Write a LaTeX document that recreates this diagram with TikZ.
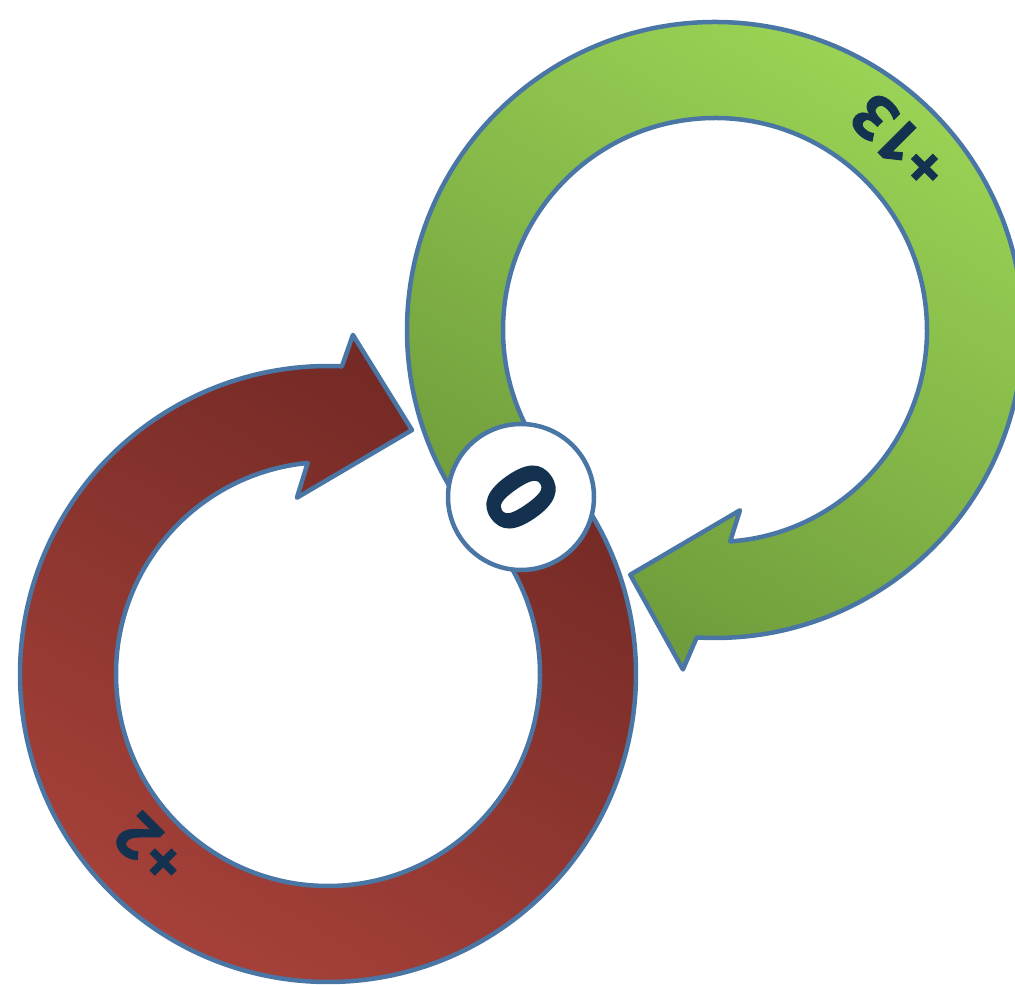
\documentclass[tikz,border=0pt]{standalone}
\usepackage{fontspec}
\usetikzlibrary{calc}
\newfontfamily\lblfont{Open Sans}[BoldFeatures={FakeBold=1.6}]
\definecolor{edgeblue}{RGB}{74,118,166}
\definecolor{navy}{RGB}{20,50,80}
\definecolor{glight}{RGB}{156,214,86}
\definecolor{gdark}{RGB}{108,152,58}
\definecolor{rlight}{RGB}{168,66,58}
\definecolor{rdark}{RGB}{112,40,36}
\tikzset{
  ring/.style={line width=4.5pt, draw=edgeblue, line join=round, shading=axis},
  lbl/.style={font=\lblfont\bfseries\fontsize{62}{64}\selectfont, text=navy, inner sep=0pt},
}
\begin{document}
\begin{tikzpicture}[x=1pt,y=1pt]
\clip (0,0) rectangle (1015,985);
\coordinate (G) at (715,655);
\coordinate (R) at (328,311);
% green ring with arrow
\shadedraw[ring, top color=glight, bottom color=gdark, shading angle=-30]
  ($(G)+(221:308)$) arc[start angle=221, end angle=-93.4, radius=308]
  -- ($(G)+(-95.4:341)$) -- ($(G)+(-109.1:259)$) -- ($(G)+(-82.1:182)$)
  -- ($(G)+(-85.9:212)$) arc[start angle=-85.9, end angle=221, radius=212] -- cycle;
% red ring with arrow
\shadedraw[ring, top color=rdark, bottom color=rlight, shading angle=-30]
  ($(R)+(42.5:308)$) arc[start angle=42.5, end angle=-272.6, radius=308]
  -- ($(R)+(-274.2:340)$) -- ($(R)+(-289:258)$) -- ($(R)+(-260:179)$)
  -- ($(R)+(-264.5:212)$) arc[start angle=-264.5, end angle=42.5, radius=212] -- cycle;
% labels
\node[lbl, rotate=135] (l13) at ($(G)+(45.5:263)$) {+13};
\node[lbl, rotate=135] (l2) at ($(R)+(224.7:250)$) {+2};
% centre circle
\node[circle, draw=edgeblue, line width=4.5pt, fill=white, minimum size=146pt, inner sep=0pt] (zero) at (521,488) {};
\node[lbl, font=\lblfont\bfseries\fontsize{98}{100}\selectfont, rotate=125] (zt) at (zero) {0};
\end{tikzpicture}
\end{document}
